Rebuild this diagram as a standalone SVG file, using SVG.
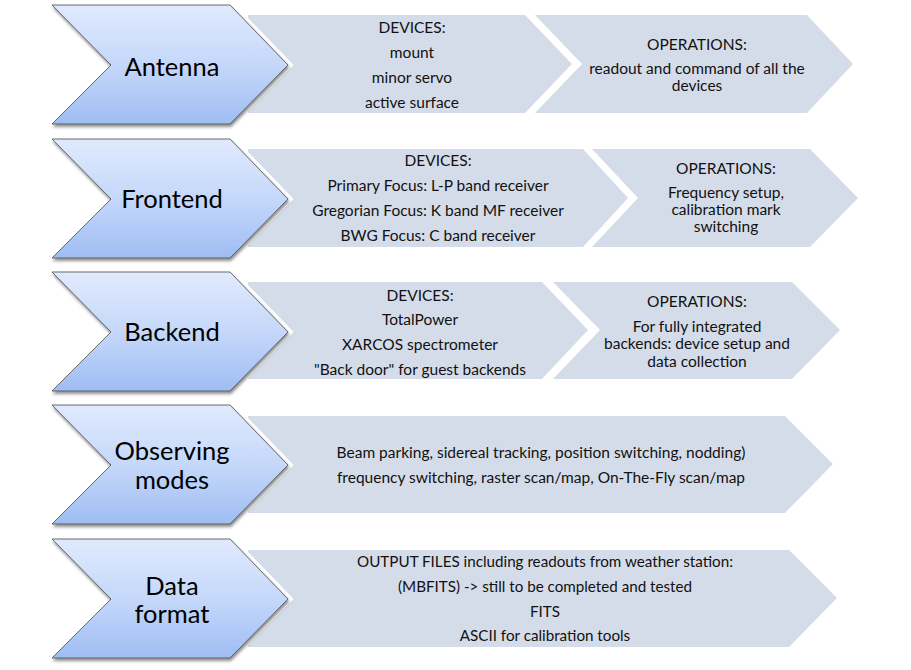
<svg xmlns="http://www.w3.org/2000/svg" width="911" height="670" viewBox="0 0 911 670">
<defs>
<linearGradient id="bg" x1="0" y1="0" x2="0" y2="1">
<stop offset="0" stop-color="#e0eafd"/>
<stop offset="0.5" stop-color="#c5d8fa"/>
<stop offset="1" stop-color="#9fbdf3"/>
</linearGradient>
<filter id="sh" x="-10%" y="-10%" width="130%" height="130%">
<feDropShadow dx="1" dy="2.5" stdDeviation="1.6" flood-color="#000" flood-opacity="0.45"/>
</filter>
<path id="chev" d="M0,0 H178 L236,60 L178,119 H0 L59,60 Z"/>
</defs>
<style>
.g{fill:#d5dce9}
.halo{fill:#fff;stroke:#fff;stroke-width:8;stroke-linejoin:miter}
.b{fill:url(#bg);stroke:#4a4a4a;stroke-width:0.8;filter:url(#sh)}
.big{font-family:Lato,"Liberation Sans",sans-serif;font-size:25.5px;fill:#000;text-anchor:middle}
.t{font-family:Lato,"Liberation Sans",sans-serif;font-size:15.5px;fill:#111;text-anchor:middle}
.t5{font-size:15.2px}
</style>
<rect width="911" height="670" fill="#fff"/>

<g id="row-antenna">
<polygon class="g" points="248,15 525,15 572,64 525,113 248,113"/>
<polygon class="g" points="535,15 807,15 853,64 807,113 535,113 582,64"/>
<g transform="translate(52,5)"><use href="#chev" class="halo"/><use href="#chev" class="b"/></g>
<text class="big" x="172" y="76">Antenna</text>
<text class="t" x="412" y="33">DEVICES:</text>
<text class="t" x="412" y="58">mount</text>
<text class="t" x="412" y="83">minor servo</text>
<text class="t" x="412" y="108">active surface</text>
<text class="t" x="697" y="50">OPERATIONS:</text>
<text class="t" x="697" y="74">readout and command of all the</text>
<text class="t" x="697" y="91">devices</text>
</g>

<g id="row-frontend">
<polygon class="g" points="248,149 583,149 628,198 583,247 248,247"/>
<polygon class="g" points="592,149 810,149 858,198 810,247 592,247 638,198"/>
<g transform="translate(52,139)"><use href="#chev" class="halo"/><use href="#chev" class="b"/></g>
<text class="big" x="172" y="208">Frontend</text>
<text class="t" x="438" y="166">DEVICES:</text>
<text class="t" x="438" y="191">Primary Focus: L-P band receiver</text>
<text class="t" x="438" y="216">Gregorian Focus: K band MF receiver</text>
<text class="t" x="438" y="241">BWG Focus: C band receiver</text>
<text class="t" x="726" y="174">OPERATIONS:</text>
<text class="t" x="726" y="198">Frequency setup,</text>
<text class="t" x="726" y="215">calibration mark</text>
<text class="t" x="726" y="232">switching</text>
</g>

<g id="row-backend">
<polygon class="g" points="248,282 542,282 588,330 542,379 248,379"/>
<polygon class="g" points="553,282 792,282 840,330 792,379 553,379 600,330"/>
<g transform="translate(52,272)"><use href="#chev" class="halo"/><use href="#chev" class="b"/></g>
<text class="big" x="172" y="341">Backend</text>
<text class="t" x="420" y="301">DEVICES:</text>
<text class="t" x="420" y="325">TotalPower</text>
<text class="t" x="420" y="350">XARCOS spectrometer</text>
<text class="t" x="420" y="375">"Back door" for guest backends</text>
<text class="t" x="697" y="307">OPERATIONS:</text>
<text class="t" x="697" y="332">For fully integrated</text>
<text class="t" x="697" y="349">backends: device setup and</text>
<text class="t" x="697" y="367">data collection</text>
</g>

<g id="row-observing">
<polygon class="g" points="248,416 785,416 833,464 785,513 248,513"/>
<g transform="translate(52,405)"><use href="#chev" class="halo"/><use href="#chev" class="b"/></g>
<text class="big" x="172" y="460">Observing</text>
<text class="big" x="172" y="489">modes</text>
<text class="t" x="541" y="458">Beam parking, sidereal tracking, position switching, nodding)</text>
<text class="t" x="541" y="483">frequency switching, raster scan/map, On-The-Fly scan/map</text>
</g>

<g id="row-dataformat">
<polygon class="g" points="248,550 789,550 837,598 789,647 248,647"/>
<g transform="translate(52,539)"><use href="#chev" class="halo"/><use href="#chev" class="b"/></g>
<text class="big" x="172" y="595">Data</text>
<text class="big" x="172" y="623">format</text>
<text class="t t5" x="545" y="567">OUTPUT FILES including readouts from weather station:</text>
<text class="t t5" x="545" y="592">(MBFITS) -&gt; still to be completed and tested</text>
<text class="t t5" x="545" y="617">FITS</text>
<text class="t t5" x="545" y="641">ASCII for calibration tools</text>
</g>

<g id="connectors"/>
</svg>
